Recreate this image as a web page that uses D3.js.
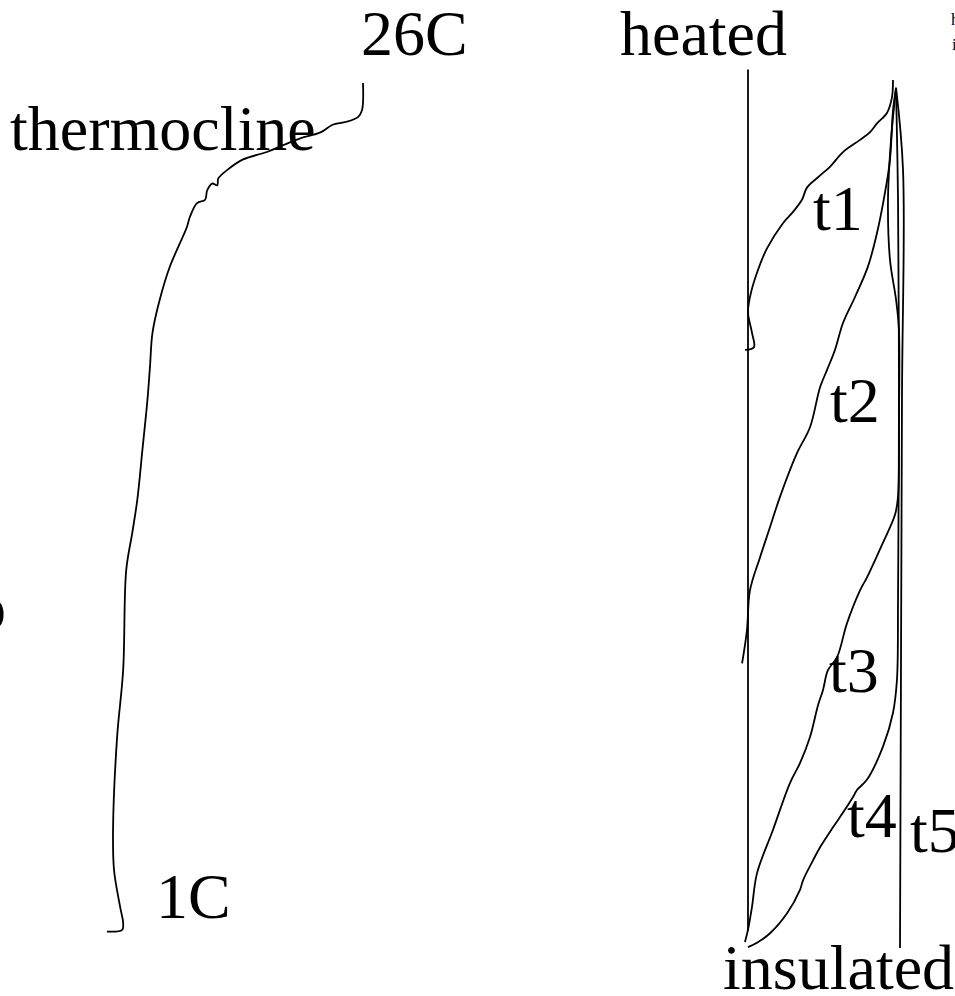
<!DOCTYPE html>
<html>
<head>
<meta charset="utf-8">
<script src="https://cdn.jsdelivr.net/npm/d3@7"></script>
<style>
	body { margin: 0; background: #fff; }
	svg { display: block; }
	text { font-family: 'Liberation Serif', 'Times New Roman', serif; font-size: 64px; fill: #000; }
</style>
</head>
<body>
<div id="d3-wrapper"></div>
<script>
const width = 955;
const height = 996;

// left sketch: temperature (C) against depth (0 top .. 100 bottom)
const profileTemp = [26.0, 25.9, 25.5, 24.2, 23.0, 21.8, 19.8, 18.1, 16.5, 14.1, 12.6, 11.7, 11.6, 11.1, 10.6, 10.4, 9.6, 8.9, 8.6, 6.9, 5.9, 5.2, 4.95, 4.7, 4.2, 3.7, 3.2, 2.6, 2.3, 1.7, 1.3, 1.4, 2.0, 2.3, 2.2, 0.7];
const profileDepth = [0, 3.2, 4.0, 4.6, 4.9, 5.8, 6.5, 7.3, 8.1, 9.0, 10.2, 11.2, 12.0, 11.8, 12.6, 13.7, 14.1, 15.7, 16.9, 21.6, 25.5, 29.3, 33.3, 37.2, 43.1, 48.9, 52.8, 57.2, 68.9, 76.8, 87.7, 92.4, 96.7, 98.6, 99.4, 99.6];

// right sketch: temperature (0 cold wall .. 100 hot) against depth, one curve per time
const t1Temp = [95.4, 94.7, 91.4, 84.9, 80.3, 73.7, 62.5, 53.9, 46.1, 38.8, 35.5, 29.6, 23.0, 12.5, 5.9, 1.3, 0, 2.6, 3.9, -2.0];
const t1Depth = [0, 2.0, 3.8, 5.0, 6.0, 6.9, 8.3, 10.0, 11.2, 12.4, 13.8, 15.2, 16.5, 19.4, 22.2, 25.0, 26.8, 29.1, 30.8, 31.1];
const t2Temp = [97.4, 95.4, 93.4, 90.1, 84.9, 78.9, 70.4, 62.5, 57.2, 52.0, 47.4, 40.8, 32.2, 21.1, 14.5, 7.9, 1.3, -0.7, -3.9];
const t2Depth = [0.9, 3.5, 9.2, 13.0, 17.6, 21.5, 25.0, 28.0, 31.1, 33.4, 35.4, 40.0, 43.0, 48.0, 51.5, 55.0, 58.8, 63.4, 67.2];
const t3Temp = [97.4, 94.1, 92.1, 93.4, 97.4, 99.3, 99.3, 98.7, 96.7, 88.8, 78.3, 73.7, 65.1, 58.6, 52.6, 49.3, 46.1, 40.8, 34.2, 27.6, 16.4, 5.9, 2.6, 0, -2.0];
const t3Depth = [0.9, 6.9, 13.8, 20.7, 25.3, 28.8, 39.2, 48.0, 50.1, 53.3, 57.3, 58.8, 62.6, 66.5, 68.0, 70.3, 72.0, 75.7, 78.7, 81.0, 86.4, 91.4, 95.3, 97.9, 99.3];
const t4Temp = [97.4, 98.7, 99.3, 98.7, 98.0, 95.4, 88.8, 78.3, 71.7, 69.1, 62.5, 55.9, 47.4, 42.8, 36.2, 34.2, 25.7, 14.5, 5.9, 0];
const t4Depth = [0.9, 13.8, 36.9, 59.9, 69.1, 72.9, 76.8, 80.6, 81.8, 82.6, 84.4, 86.1, 88.4, 89.9, 92.2, 93.3, 96.0, 98.3, 99.4, 99.9];
const t5Temp = [97.4, 102.0, 101.3, 100];
const t5Depth = [0.9, 10.4, 36.9, 100];
const wallTemp = [0, 0];
const wallDepth = [-1.2, 98.0];

const timeLabels = ['t1', 't2', 't3', 't4', 't5'];

const svg = d3.select('#d3-wrapper')
	.append('svg')
	.attr('width', width)
	.attr('height', height)
	.style('background', '#fff');

const xLeft = d3.scaleLinear()
	.domain([1, 26])
	.range([110, 363]);

const yLeft = d3.scaleLinear()
	.domain([0, 100])
	.range([83, 935]);

const xRight = d3.scaleLinear()
	.domain([0, 100])
	.range([748, 900]);

const yRight = d3.scaleLinear()
	.domain([0, 100])
	.range([80, 948]);

const zip = (a, b) => a.map((v, i) => [v, b[i]]);

function drawCurve(pts, xs, ys, curve) {
	svg.append('path')
		.datum(pts)
		.attr('fill', 'none')
		.attr('stroke', '#000')
		.attr('stroke-width', 1.8)
		.attr('stroke-linejoin', 'round')
		.attr('d', d3.line()
			.x(d => xs(d[0]))
			.y(d => ys(d[1]))
			.curve(curve || d3.curveCatmullRom.alpha(0.5)));
}

drawCurve(zip(profileTemp, profileDepth), xLeft, yLeft);

drawCurve(zip(wallTemp, wallDepth), xRight, yRight, d3.curveLinear);
drawCurve(zip(t1Temp, t1Depth), xRight, yRight);
drawCurve(zip(t2Temp, t2Depth), xRight, yRight);
drawCurve(zip(t3Temp, t3Depth), xRight, yRight);
drawCurve(zip(t4Temp, t4Depth), xRight, yRight);
drawCurve(zip(t5Temp, t5Depth), xRight, yRight);

// labels
function label(txt, x, y, size) {
	svg.append('text')
		.attr('x', x)
		.attr('y', y)
		.style('font-size', size ? size + 'px' : null)
		.text(txt);
}

label('26C', xLeft(26) - 2, 55);
label('heated', 620, 55);
label('thermocline', 10, 150);
label('1C', 156, 918);
label('insulated', 723, 989);

const timeLabelPos = [[813, 230], [830, 422], [829, 692], [847, 837], [910, 852]];
timeLabels.forEach((t, i) => label(t, timeLabelPos[i][0], timeLabelPos[i][1]));

// bits of text cut off by the page edges
svg.append('text')
	.attr('x', 6)
	.attr('y', 629)
	.attr('text-anchor', 'end')
	.text('o');
label('h', 951, 25, 17);
label('i', 952, 50, 17);
</script>
</body>
</html>
